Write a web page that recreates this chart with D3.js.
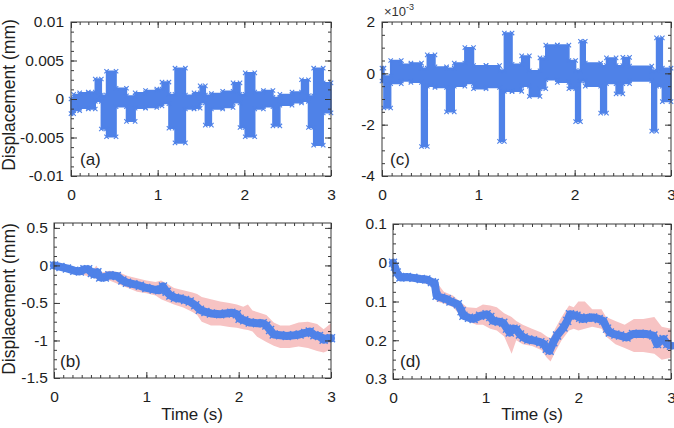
<!DOCTYPE html>
<html><head><meta charset="utf-8">
<script src="https://cdn.jsdelivr.net/npm/d3@7"></script>
<style>body{margin:0;background:#fff}svg{font-family:"Liberation Sans",Arial,sans-serif}</style>
</head><body><svg id="c" width="674" height="428"></svg>
<script>
// ---------- shared ----------
const timeTicks = [0, 1, 2, 3];
const timeMinor = d3.range(0, 3.0001, 0.1);

// ---------- panel (a): displacement band, segments (start time s, low, high) in 1e-3 mm ----------
const tA  = [0,0.03,0.10,0.20,0.28,0.35,0.41,0.52,0.64,0.74,0.86,0.99,1.05,1.13,1.20,1.32,1.42,1.49,1.55,1.62,1.75,1.87,1.95,2.01,2.12,2.22,2.33,2.41,2.55,2.66,2.74,2.80,2.91,3.00];
const loA = [-1.9,-1.5,-1.2,-1.3,-0.3,-3.9,-4.9,-1.0,-2.9,-1.2,-1.1,-0.9,-0.6,-3.8,-5.7,-1.3,-1.2,-0.5,-3.4,-1.3,-1.1,-0.5,-3.7,-4.9,-1.3,-1.0,-3.5,-0.8,-0.5,-0.3,-3.7,-6.0,-1.8,-1.8];
const hiA = [0.0,0.6,0.8,0.9,2.6,0.5,3.6,1.4,0.4,0.8,1.1,1.3,2.2,0.6,4.0,0.5,0.8,1.7,0.5,0.7,1.0,2.1,0.6,3.4,0.9,1.1,0.2,0.6,0.9,2.5,0.4,4.0,2.1,2.1];
const yTicksA = [-0.01,-0.005,0,0.005,0.01];
const yLabelsA = ["-0.01","-0.005","0","0.005","0.01"];

// ---------- panel (c): segments (start time, low, high) in 1e-3 mm ----------
const tC  = [0,0.02,0.09,0.20,0.30,0.41,0.47,0.55,0.67,0.75,0.86,0.95,1.08,1.22,1.27,1.35,1.45,1.53,1.64,1.70,1.82,1.94,2.01,2.06,2.11,2.27,2.33,2.43,2.50,2.57,2.80,2.85,2.91,3.00];
const loC = [-0.3,-1.35,-0.4,-0.3,-0.35,-2.85,-0.5,-0.55,-1.5,-0.5,-0.4,-0.6,-0.55,-2.65,-0.7,-0.7,-0.5,-0.9,-0.6,-0.25,-0.35,-0.6,-1.88,-0.3,-0.5,-1.55,-0.4,-0.8,-0.4,-0.3,-2.25,-0.5,-1.1,-1.1];
const hiC = [0.2,-0.1,0.5,0.35,0.4,0.2,0.72,0.25,0.2,0.4,1.0,0.3,0.3,0.1,1.57,0.35,0.68,0.1,0.6,1.1,1.1,0.5,0.1,1.25,0.4,0.3,0.6,0.3,0.62,0.28,0.1,1.38,0.2,0.2];
const yTicksC = [-4,-2,0,2];
const yLabelsC = ["-4","-2","0","2"];

// ---------- panel (b): mean displacement (mm) and spread band ----------
const tB = [0,0.07,0.14,0.22,0.28,0.33,0.37,0.41,0.44,0.47,0.50,0.55,0.60,0.68,0.74,0.79,0.86,0.93,1.00,1.08,1.14,1.18,1.22,1.26,1.31,1.36,1.42,1.47,1.53,1.58,1.64,1.70,1.80,1.86,1.92,1.98,2.01,2.06,2.12,2.20,2.26,2.30,2.34,2.38,2.45,2.52,2.60,2.66,2.72,2.77,2.82,2.87,2.92,2.96,3.00];
const yB = [0,-0.02,-0.04,-0.07,-0.08,-0.05,-0.05,-0.10,-0.12,-0.09,-0.16,-0.16,-0.13,-0.14,-0.20,-0.23,-0.25,-0.27,-0.30,-0.32,-0.33,-0.28,-0.35,-0.40,-0.43,-0.44,-0.46,-0.48,-0.53,-0.59,-0.62,-0.64,-0.65,-0.64,-0.63,-0.65,-0.71,-0.73,-0.76,-0.77,-0.77,-0.80,-0.86,-0.92,-0.93,-0.94,-0.93,-0.92,-0.90,-0.88,-0.93,-0.94,-0.99,-0.97,-0.97];
const tBandB = [0,0.30,0.42,0.46,0.50,0.60,0.70,0.80,0.90,1.00,1.10,1.16,1.22,1.30,1.40,1.50,1.55,1.60,1.70,1.80,1.90,1.98,2.05,2.10,2.15,2.20,2.30,2.38,2.45,2.55,2.65,2.75,2.85,2.92,3.00];
const loBandB = [-0.04,-0.12,-0.16,-0.18,-0.20,-0.20,-0.25,-0.30,-0.35,-0.37,-0.40,-0.45,-0.48,-0.52,-0.56,-0.62,-0.66,-0.75,-0.80,-0.80,-0.82,-0.83,-0.85,-0.86,-0.88,-0.95,-1.02,-1.07,-1.10,-1.10,-1.08,-1.10,-1.14,-1.16,-1.12];
const hiBandB = [0.04,-0.04,-0.06,0.00,-0.10,-0.07,-0.09,-0.14,-0.17,-0.20,-0.22,-0.20,-0.24,-0.30,-0.33,-0.36,-0.38,-0.42,-0.45,-0.48,-0.50,-0.52,-0.55,-0.52,-0.60,-0.62,-0.66,-0.76,-0.80,-0.80,-0.76,-0.75,-0.78,-0.85,-0.77];
const yTicksB = [-1.5,-1,-0.5,0,0.5];
const yLabelsB = ["-1.5","-1","-0.5","0","0.5"];

// ---------- panel (d): mean displacement (mm, axis reversed) and spread band ----------
const tD = [0,0.02,0.04,0.08,0.15,0.22,0.30,0.36,0.42,0.45,0.47,0.52,0.58,0.62,0.70,0.74,0.76,0.82,0.87,0.94,1.01,1.05,1.08,1.14,1.19,1.23,1.26,1.30,1.33,1.37,1.41,1.46,1.51,1.59,1.63,1.66,1.69,1.73,1.77,1.84,1.88,1.91,1.95,1.98,2.02,2.05,2.10,2.16,2.22,2.27,2.31,2.34,2.40,2.45,2.52,2.59,2.66,2.74,2.81,2.85,2.89,2.92,2.96,3.00];
const yD = [0,0.01,0.025,0.038,0.037,0.039,0.042,0.043,0.050,0.052,0.085,0.090,0.094,0.100,0.107,0.125,0.137,0.142,0.145,0.137,0.133,0.140,0.150,0.152,0.155,0.170,0.180,0.170,0.172,0.185,0.193,0.198,0.200,0.205,0.210,0.222,0.227,0.205,0.188,0.167,0.150,0.133,0.135,0.137,0.142,0.145,0.142,0.141,0.145,0.150,0.170,0.180,0.185,0.188,0.193,0.184,0.183,0.184,0.188,0.210,0.200,0.197,0.210,0.214];
const tBandD = [0,0.10,0.30,0.44,0.47,0.55,0.65,0.72,0.80,0.90,0.97,1.05,1.12,1.20,1.28,1.33,1.40,1.50,1.60,1.66,1.70,1.75,1.82,1.90,1.95,2.00,2.07,2.15,2.25,2.30,2.40,2.50,2.60,2.70,2.82,2.90,3.00];
const loBandD = [-0.005,0.030,0.032,0.040,0.050,0.075,0.085,0.100,0.115,0.117,0.108,0.110,0.115,0.130,0.140,0.150,0.160,0.170,0.180,0.190,0.195,0.170,0.140,0.110,0.115,0.100,0.100,0.120,0.120,0.140,0.150,0.160,0.145,0.145,0.140,0.165,0.170];
const hiBandD = [0.005,0.045,0.050,0.060,0.100,0.105,0.115,0.135,0.150,0.160,0.160,0.170,0.175,0.190,0.235,0.200,0.210,0.215,0.225,0.245,0.255,0.230,0.200,0.175,0.170,0.175,0.170,0.165,0.170,0.190,0.210,0.220,0.230,0.230,0.235,0.250,0.245];
const yTicksD = [-0.1,0,0.1,0.2,0.3];
const yLabelsD = ["0.1","0","0.1","0.2","0.3"];

// ---------- styles ----------
const BLUE = "#4f82e8", PINK = "#f7c3c3", FRAME = "#3a3a3a", TXT = "#1e1e1e";
const svg = d3.select("#c");

function xMark(g, pts, r, sw) {
  g.selectAll(null).data(pts).join("path")
    .attr("d", d => `M${d[0]-r},${d[1]-r}L${d[0]+r},${d[1]+r}M${d[0]-r},${d[1]+r}L${d[0]+r},${d[1]-r}`)
    .attr("stroke", BLUE).attr("stroke-width", sw).attr("fill", "none");
}

function frame(x, y, yMajor, yLabels, yMinor, pad) {
  const [x0, x1] = x.range(), [ya, yb] = y.range();
  const top = Math.min(ya, yb), bot = Math.max(ya, yb);
  const g = svg.append("g");
  const tickStyle = sel => { sel.select(".domain").remove(); sel.selectAll("line").attr("stroke", FRAME); };
  const txt = sel => sel.selectAll("text").attr("font-size", 15.5).attr("fill", TXT).attr("font-family", "Liberation Sans, Arial, sans-serif");
  g.append("g").attr("transform", `translate(0,${bot})`).call(d3.axisBottom(x).tickValues(timeMinor).tickSize(-3).tickFormat("")).call(tickStyle);
  g.append("g").attr("transform", `translate(0,${bot})`).call(d3.axisBottom(x).tickValues(timeTicks).tickSize(-6).tickPadding(13).tickFormat(d3.format("d"))).call(tickStyle).call(txt);
  g.append("g").attr("transform", `translate(0,${top})`).call(d3.axisTop(x).tickValues(timeMinor).tickSize(-3).tickFormat("")).call(tickStyle);
  g.append("g").attr("transform", `translate(0,${top})`).call(d3.axisTop(x).tickValues(timeTicks).tickSize(-6).tickFormat("")).call(tickStyle);
  g.append("g").attr("transform", `translate(${x0},0)`).call(d3.axisLeft(y).tickValues(yMinor).tickSize(-3).tickFormat("")).call(tickStyle);
  g.append("g").attr("transform", `translate(${x0},0)`).call(d3.axisLeft(y).tickValues(yMajor).tickSize(-6).tickPadding(pad).tickFormat((d, i) => yLabels[i])).call(tickStyle).call(txt);
  g.append("g").attr("transform", `translate(${x1},0)`).call(d3.axisRight(y).tickValues(yMinor).tickSize(-3).tickFormat("")).call(tickStyle);
  g.append("g").attr("transform", `translate(${x1},0)`).call(d3.axisRight(y).tickValues(yMajor).tickSize(-6).tickFormat("")).call(tickStyle);
  g.append("rect").attr("x", x0).attr("y", top).attr("width", x1 - x0).attr("height", bot - top)
    .attr("fill", "none").attr("stroke", FRAME).attr("stroke-width", 1);
}

function minorOf(major, n) {
  const out = [];
  for (let i = 0; i < major.length - 1; i++) {
    const a = major[i], b = major[i + 1];
    for (let k = 0; k < n; k++) out.push(a + (b - a) * k / n);
  }
  out.push(major[major.length - 1]);
  return out;
}

// ----- band panels (a), (c) -----
function bandPanel(t, lo, hi, scaleK, x, y) {
  const g = svg.append("g");
  const rows = t.map((d, i) => ({t: d, lo: lo[i] * scaleK, hi: hi[i] * scaleK}));
  g.append("path").datum(rows)
    .attr("d", d3.area().curve(d3.curveStepAfter).x(d => x(d.t)).y0(d => y(d.lo)).y1(d => y(d.hi)))
    .attr("fill", BLUE).attr("stroke", BLUE).attr("stroke-width", 1.5).attr("stroke-linejoin", "round");
  const pts = [];
  for (let i = 0; i < rows.length - 1; i++) {
    const xs = x(rows[i].t), xe = x(rows[i + 1].t);
    pts.push([xs, y(rows[i].lo)], [xs, y(rows[i].hi)], [xe, y(rows[i].lo)], [xe, y(rows[i].hi)]);
  }
  xMark(g, pts, 2.2, 1.1);
}

// (a)
const xA = d3.scaleLinear().domain([0, 3]).range([71, 331]);
const yA = d3.scaleLinear().domain([-0.01, 0.01]).range([176, 22]);
bandPanel(tA, loA, hiA, 1e-3, xA, yA);
frame(xA, yA, yTicksA, yLabelsA, minorOf(yTicksA, 4), 7);

// (c)
const xC = d3.scaleLinear().domain([0, 3]).range([382, 671]);
const yC = d3.scaleLinear().domain([-4, 2]).range([176, 22]);
bandPanel(tC, loC, hiC, 1, xC, yC);
frame(xC, yC, yTicksC, yLabelsC, minorOf(yTicksC, 4), 7);

// ----- mean + spread panels (b), (d) -----
function meanPanel(t, v, tb, lo, hi, x, y) {
  const g = svg.append("g");
  g.append("path").datum(tb.map((d, i) => [d, lo[i], hi[i]]))
    .attr("d", d3.area().x(d => x(d[0])).y0(d => y(d[1])).y1(d => y(d[2])))
    .attr("fill", PINK);
  const line = t.map((d, i) => [x(d), y(v[i])]);
  g.append("path").datum(line).attr("d", d3.line())
    .attr("fill", "none").attr("stroke", BLUE).attr("stroke-width", 8).attr("stroke-linejoin", "round").attr("stroke-linecap", "round");
  xMark(g, line, 4, 1.4);
}

// (b)
const xB = d3.scaleLinear().domain([0, 3]).range([54, 331]);
const yBs = d3.scaleLinear().domain([-1.5, 0.565]).range([378, 223]);
meanPanel(tB, yB, tBandB, loBandB, hiBandB, xB, yBs);
frame(xB, yBs, yTicksB, yLabelsB, minorOf(yTicksB, 4), 6);

// (d)
const xD = d3.scaleLinear().domain([0, 3]).range([393, 671]);
const yDs = d3.scaleLinear().domain([-0.1, 0.3]).range([224, 379]);
meanPanel(tD, yD, tBandD, loBandD, hiBandD, xD, yDs);
frame(xD, yDs, yTicksD, yLabelsD, minorOf(yTicksD, 4), 6);

// ----- texts -----
const T = (x, y, s, size, anchor) => svg.append("text").attr("x", x).attr("y", y).text(s)
  .attr("font-size", size).attr("fill", TXT).attr("text-anchor", anchor || "start");
T(80, 164.5, "(a)", 17); T(390, 164.5, "(c)", 17);
T(60, 366.5, "(b)", 17); T(400, 366.5, "(d)", 17);
T(192, 420, "Time (s)", 17, "middle"); T(532, 420, "Time (s)", 17, "middle");
svg.append("text").attr("transform", "translate(15,95) rotate(-90)").attr("text-anchor", "middle")
  .attr("font-size", 17.5).attr("fill", TXT).text("Displacement (mm)");
svg.append("text").attr("transform", "translate(15,299) rotate(-90)").attr("text-anchor", "middle")
  .attr("font-size", 17.5).attr("fill", TXT).text("Displacement (mm)");
const ex = svg.append("text").attr("x", 384).attr("y", 16).attr("font-size", 13).attr("fill", "#333");
ex.append("tspan").text("×10");
ex.append("tspan").attr("dy", -6).attr("font-size", 9).text("-3");
</script></body></html>
